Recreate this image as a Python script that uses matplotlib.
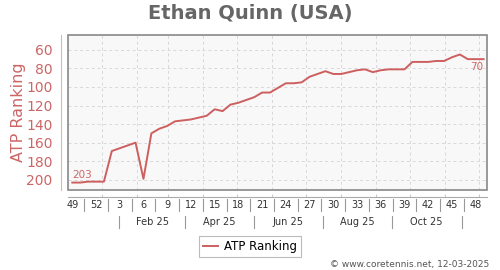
import matplotlib
matplotlib.use('Agg')
import matplotlib.pyplot as plt
import matplotlib.dates as mdates
import matplotlib.transforms as mtrans
from matplotlib.lines import Line2D
from matplotlib.patches import Rectangle
import pandas as pd

title = "Ethan Quinn (USA)"
series_name = "ATP Ranking"
start_date = "2024-12-06"
ranks = [203, 203, 202, 202, 202, 169, 166, 163, 160, 199,
         150, 145, 142, 137, 136, 135, 133, 131, 124, 126,
         119, 117, 114, 111, 106, 106, 101, 96, 96, 95,
         89, 86, 83, 86, 86, 84, 82, 81, 84, 82,
         81, 81, 81, 73, 73, 73, 72, 72, 68, 65,
         70, 70, 70]
week_labels = ["49", "52", "3", "6", "9", "12", "15", "18", "21", "24",
               "27", "30", "33", "36", "39", "42", "45", "48"]
month_labels = ["Feb 25", "Apr 25", "Jun 25", "Aug 25", "Oct 25"]
month_label_dates = ["2025-02-15", "2025-04-15", "2025-06-15", "2025-08-15", "2025-10-15"]
month_sep_dates = ["2025-01-16", "2025-03-16", "2025-05-16", "2025-07-16", "2025-09-15", "2025-11-16"]
month_starts = ["2025-01-01", "2025-02-01", "2025-03-01", "2025-04-01", "2025-05-01", "2025-06-01",
                "2025-07-01", "2025-08-01", "2025-09-01", "2025-10-01", "2025-11-01", "2025-12-01"]
yticks = [60, 80, 100, 120, 140, 160, 180, 200]
credit = "\u00a9 www.coretennis.net, 12-03-2025"

line_color = '#cd5f5f'
red_text = '#cc6666'

def dnum(s):
    return mdates.date2num(pd.to_datetime(s).to_pydatetime())

dates = pd.date_range(start_date, periods=len(ranks), freq='7D')
x = [mdates.date2num(d.to_pydatetime()) for d in dates]

W, H = 500, 270
fig = plt.figure(figsize=(5, 2.7), dpi=100)
ax = fig.add_axes([68 / W, 1 - 190 / H, (487 - 68) / W, (190 - 35) / H])
ax.set_facecolor('#f8f8f8')

ax.plot(x, ranks, color=line_color, lw=1.4, label=series_name, zorder=3)

step = x[1] - x[0]
ax.set_xlim(x[0] - 0.54 * step, x[0] + 52.43 * step)
ax.set_ylim(211, 44)
ax.set_yticks(yticks)
ax.set_yticklabels([str(v) for v in yticks], fontsize=8.3)
ax.tick_params(axis='y', length=0, pad=6, labelcolor=red_text)

ax.set_xticks([dnum(s) for s in month_starts])
ax.set_xticklabels([])
ax.tick_params(axis='x', direction='in', length=2.5, color='#cccccc')

ax.grid(True, color='#d8d8d8', linestyle=(0, (3, 3)), lw=0.7)
ax.set_axisbelow(True)

for s in ['top', 'right']:
    ax.spines[s].set_visible(False)
ax.spines['left'].set_position(('outward', 5))
ax.spines['left'].set_color('#e0b4b4')
ax.spines['bottom'].set_position(('outward', 5))
ax.spines['bottom'].set_color('#aaaaaa')
ax.add_patch(Rectangle((0, 0), 1, 1, transform=ax.transAxes, fill=False,
                       edgecolor='#888888', lw=1.2, clip_on=False, zorder=5))

ax.set_ylabel(series_name, color=red_text, fontsize=11.5)
ax.yaxis.set_label_coords((26 - 68) / 419, 0.5)

# annotations
ax.text(x[0], ranks[0] - 3, str(ranks[0]), color=red_text, fontsize=7.5, ha='left', va='bottom')
ax.text(x[-1], ranks[-1] + 3, str(ranks[-1]), color=red_text, fontsize=7.5, ha='right', va='top')

blend = mtrans.blended_transform_factory(ax.transData, ax.transAxes)
px = 1 / 155.0
# week row
for k, lab in enumerate(week_labels):
    ax.text(x[3 * k], -15 * px, lab, transform=blend, ha='center', va='center',
            fontsize=7, color='#333333', clip_on=False)
for k in range(len(week_labels) - 1):
    xs = x[3 * k] + 1.5 * step
    ax.add_line(Line2D([xs, xs], [-9 * px, -21 * px], transform=blend, color='#999999',
                       lw=0.8, clip_on=False))
# month row
for lab, d in zip(month_labels, month_label_dates):
    ax.text(dnum(d), -32 * px, lab, transform=blend, ha='center', va='center',
            fontsize=7, color='#333333', clip_on=False)
for d in month_sep_dates:
    xs = dnum(d)
    ax.add_line(Line2D([xs, xs], [-26 * px, -38 * px], transform=blend, color='#999999',
                       lw=0.8, clip_on=False))

fig.text(0.5, 1 - 14 / H, title, ha='center', va='center', fontsize=14,
         fontweight='bold', color='#666666')

leg = fig.legend(loc='center', bbox_to_anchor=(0.5, 1 - 246.5 / H), fontsize=8.5,
                 frameon=True, fancybox=False, edgecolor='#aaaaaa', handlelength=1.3,
                 handletextpad=0.5, borderpad=0.35)
leg.get_frame().set_linewidth(0.8)

fig.text(489 / W, 1 - 264 / H, credit, ha='right', va='center', fontsize=6.5, color='#555555')

fig.savefig('out.png', dpi=100)
